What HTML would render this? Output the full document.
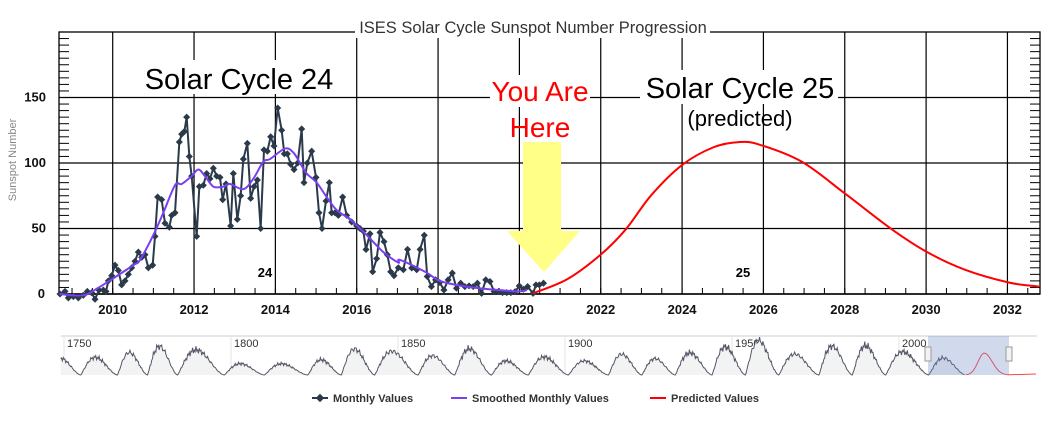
<!DOCTYPE html>
<html><head><meta charset="utf-8">
<style>
html,body{margin:0;padding:0;background:#fff;}
body{width:1055px;height:417px;overflow:hidden;font-family:"Liberation Sans",sans-serif;}
</style></head>
<body>
<svg id="s" width="1055" height="417" xmlns="http://www.w3.org/2000/svg" font-family="Liberation Sans, sans-serif"></svg>
<script>
const S=document.getElementById('s');
let h='';
const X=t=>112.7+40.67*(t-2010), Y=v=>294-1.31*v;
const L=59,R=1040,T=32,B=294;
for(let y=2010;y<=2032;y+=2){const x=X(y);h+=`<line x1="${x}" y1="${T}" x2="${x}" y2="${B}" stroke="#000" stroke-width="1.2"/>`;
h+=`<text x="${x}" y="314" font-size="13" font-weight="bold" text-anchor="middle" fill="#111">${y}</text>`;}
for(let v=50;v<=150;v+=50){h+=`<line x1="${L}" y1="${Y(v)}" x2="${R}" y2="${Y(v)}" stroke="#000" stroke-width="1.2"/>`;}
for(let v=0;v<=150;v+=50){h+=`<text x="${v==0?45:46}" y="${Y(v)+4}" font-size="13" font-weight="bold" text-anchor="end" fill="#111">${v}</text>`;}
for(let v=0;v<=195;v+=5){h+=`<line x1="${L}" y1="${Y(v)}" x2="${L+10}" y2="${Y(v)}" stroke="#000" stroke-width="1"/><line x1="${R-10}" y1="${Y(v)}" x2="${R}" y2="${Y(v)}" stroke="#000" stroke-width="1"/>`;}
for(let t=2009;t<2033;t+=0.5){const x=X(t);h+=`<line x1="${x}" y1="${B-6}" x2="${x}" y2="${B}" stroke="#000"/>`;}
h+=`<rect x="${L}" y="${T}" width="${R-L}" height="${B-T}" fill="none" stroke="#000" stroke-width="1.3"/>`;
h+=`<line x1="${L}" y1="${B}" x2="${R}" y2="${B}" stroke="#000" stroke-width="1.5"/>`;
h+=`<text x="16" y="160" font-size="11" fill="#888" text-anchor="middle" transform="rotate(-90 16 160)">Sunspot Number</text>`;
h+=`<rect x="355" y="18" width="355" height="20" fill="#fff"/><text x="533" y="33" font-size="16.5" text-anchor="middle" fill="#333">ISES Solar Cycle Sunspot Number Progression</text>`;
h+=`<rect x="140" y="60" width="198" height="34" fill="#fff"/><text x="239" y="89" font-size="29" text-anchor="middle" fill="#000">Solar Cycle 24</text>`;
h+=`<rect x="640" y="70" width="198" height="34" fill="#fff"/><text x="740" y="98" font-size="29" text-anchor="middle" fill="#000">Solar Cycle 25</text>`;
h+=`<text x="740" y="126" font-size="22" text-anchor="middle" fill="#000">(predicted)</text>`;
h+=`<rect x="490" y="75" width="100" height="32" fill="#fff"/><text x="540" y="101" font-size="28" text-anchor="middle" fill="#f00">You Are</text><text x="540" y="137" font-size="28" text-anchor="middle" fill="#f00">Here</text>`;
h+=`<text x="265" y="277" font-size="13" font-weight="bold" text-anchor="middle">24</text><text x="743" y="277" font-size="13" font-weight="bold" text-anchor="middle">25</text>`;
h+=`<polygon points="523,142 561,142 561,231 580,231 544,272 507,231 523,231" fill="#ffff88"/>`;
const z1=[[180,0],[195,2],[205,-3],[220,-2],[235,-3],[250,-1],[262,2],[275,1],[285,-4],[297,3],[310,3],[318,2],[325,10],[335,14],[345,22],[355,18],[365,7],[375,10],[385,15],[395,20],[405,25],[415,32],[425,28],[435,30],[445,20],[458,22],[465,44],[473,74],[485,72],[495,54],[508,51],[515,60],[525,62],[538,116],[545,122],[553,124],[560,135],[568,105],[575,90],[590,44],[598,82],[610,83],[620,92],[630,88],[640,96],[650,90],[660,89],[668,72],[678,84],[692,52],[700,92],[712,57],[722,75],[730,103],[742,115],[752,73],[762,82],[772,87],[782,50],[792,110],[802,109],[812,120],[822,113],[833,142],[845,125],[853,107],[862,107],[872,99],[882,95],[893,100],[905,126],[912,85],[922,100],[935,109],[948,89],[957,62],[966,50],[978,71],[988,85],[995,62],[1005,62],[1015,60],[1028,74],[1040,60],[1055,55],[1070,52],[1080,50],[1090,48],[1098,34],[1110,46],[1118,17],[1130,27],[1140,47],[1152,40],[1162,30],[1172,17],[1182,14],[1195,20]];
const z3=[[8,810],[18,750],[28,805],[40,810],[48,750],[58,708],[65,830],[75,860],[85,840],[95,848],[105,870],[115,840],[125,820],[135,865],[145,850],[155,860],[165,858],[175,860],[185,850],[195,880],[205,840],[215,845],[225,875],[235,875],[245,878],[255,878],[265,878],[275,875],[285,858],[295,868],[305,860],[318,880],[325,855],[333,855],[343,850]];
const pts=z1.map(p=>[p[0]/3,Y(p[1])]).concat(z3.map(p=>[400+p[0]/2.39,Y((882-p[1])/3.88)]));
h+=`<polyline points="${pts.map(p=>p.join(',')).join(' ')}" fill="none" stroke="#2b3a4a" stroke-width="2"/>`;
pts.forEach(p=>{h+=`<rect x="${p[0]-2.5}" y="${p[1]-2.5}" width="5" height="5" fill="#2b3a4a" transform="rotate(45 ${p[0]} ${p[1]})"/>`;});
const sm=[[178,0],[250,-1],[290,4],[340,12],[400,22],[420,26],[460,45],[490,62],[525,83],[545,84],[575,90],[595,95],[615,90],[640,82],[670,82],[690,84],[730,80],[760,88],[790,101],[810,103],[855,111],[880,108],[900,100],[920,92],[950,85],[980,74],[1010,64],[1050,57],[1100,45],[1150,32],[1195,24]].map(p=>[p[0]/3,Y(p[1])]).concat([[400,Y(26)],[425,Y(17)],[440,Y(10)],[463,Y(6)],[484,Y(4)],[517,Y(2)],[527,Y(3)]]);
function cr(P){let d=`M${P[0][0]},${P[0][1]}`;for(let i=0;i<P.length-1;i++){const p0=P[i-1]||P[i],p1=P[i],p2=P[i+1],p3=P[i+2]||p2;d+=` C${p1[0]+(p2[0]-p0[0])/6},${p1[1]+(p2[1]-p0[1])/6} ${p2[0]-(p3[0]-p1[0])/6},${p2[1]-(p3[1]-p1[1])/6} ${p2[0]},${p2[1]}`;}return d;}
h+=`<path d="${cr(sm)}" fill="none" stroke="#7a3ff2" stroke-width="2"/>`;
const pr=[[318,880],[400,838],[480,765],[540,690],[600,590],[674,500],[750,447],[810,432],[860,440],[960,490],[1064,585],[1175,690],[1260,758],[1350,810],[1455,848],[1527,860]].map(p=>[400+p[0]/2.39,Y((882-p[1])/3.88)]);
h+=`<path d="${cr(pr)}" fill="none" stroke="#f00" stroke-width="2"/>`;
// navigator
const NX=y=>899+3.34*(y-2000);
h+=`<line x1="61" y1="336" x2="1037" y2="336" stroke="#ccc"/>`;
[1750,1800,1850,1900,1950,2000].forEach(y=>{const x=NX(y);h+=`<line x1="${x}" y1="336" x2="${x}" y2="375" stroke="#e6e6e6"/><text x="${x+3}" y="347" font-size="11" fill="#333">${y}</text>`;});
const mins=[1745,1755,1766,1775,1784,1798,1810,1823,1833,1843,1856,1867,1878,1889,1901,1913,1923,1933,1944,1954,1964,1976,1986,1996,2008.9,2019.9];
const pk=[80,86,116,154,132,47,46,71,138,124,96,139,64,88,64,105,78,114,151,190,106,155,158,120,82];
let np=[];
for(let i=0;i<mins.length-1;i++){const a=mins[i],b=mins[i+1];for(let t=a;t<b;t+=0.25){if(t<1749)continue;const u=(t-a)/(b-a);let v=(20+pk[i]*0.85)*Math.pow(Math.sin(Math.PI*Math.pow(u,0.75)),1.6)*(1+0.15*Math.sin(t*9.1)*Math.sin(t*3.7));np.push([NX(t),375-v*0.19]);}}
h+=`<path d="M${NX(1749)},375 L${np.map(p=>p.join(',')).join(' L')} L${NX(2020.5)},375 Z" fill="#f2f4f3"/>`;
h+=`<polyline points="${np.map(p=>p.join(',')).join(' ')}" fill="none" stroke="#556" stroke-width="1"/>`;
let rp=[];for(let t=2020;t<=2033;t+=0.2){const v=t<2025.5?115*Math.exp(-Math.pow((t-2025.5)/2.6,2)):115*Math.exp(-Math.pow((t-2025.5)/3.4,2));rp.push([NX(t),375-v*0.19]);}
h+=`<polyline points="${rp.map(p=>p.join(',')).join(' ')} 1036,374" fill="none" stroke="#f44" stroke-width="1"/>`;
h+=`<rect x="928" y="336" width="81" height="39" fill="rgba(102,133,194,0.3)"/>`;
h+=`<rect x="925" y="347" width="6" height="14" fill="#f2f2f2" stroke="#999"/><rect x="1006" y="347" width="6" height="14" fill="#f2f2f2" stroke="#999"/>`;
h+=`<line x1="312" y1="398" x2="328" y2="398" stroke="#2b3a4a" stroke-width="2"/><rect x="317" y="395" width="6" height="6" fill="#2b3a4a" transform="rotate(45 320 398)"/><text x="333" y="402" font-size="11" font-weight="bold" fill="#333">Monthly Values</text>`;
h+=`<line x1="451" y1="398" x2="467" y2="398" stroke="#7a3ff2" stroke-width="2"/><text x="472" y="402" font-size="11" font-weight="bold" fill="#333">Smoothed Monthly Values</text>`;
h+=`<line x1="650" y1="398" x2="666" y2="398" stroke="#f00" stroke-width="2"/><text x="671" y="402" font-size="11" font-weight="bold" fill="#333">Predicted Values</text>`;
S.innerHTML=h;
</script>
</body></html>
